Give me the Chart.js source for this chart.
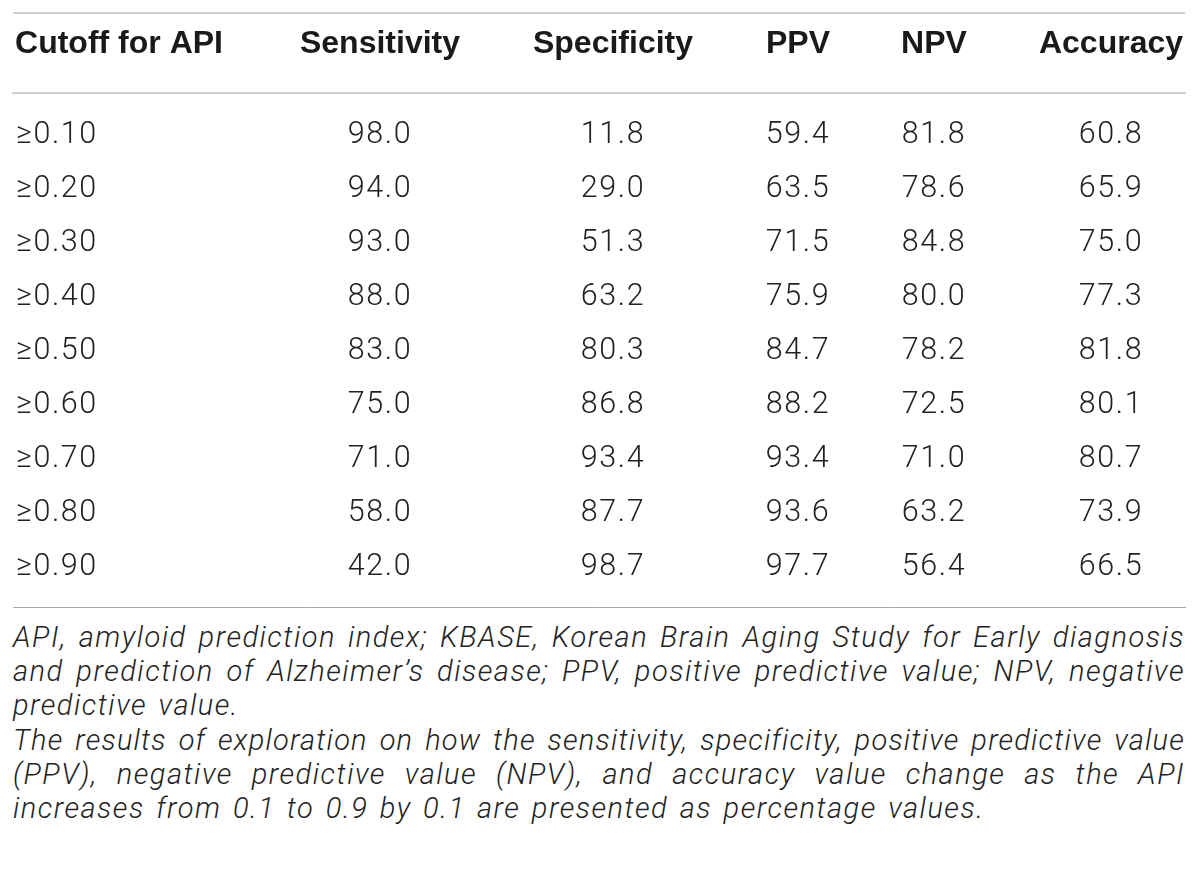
<!DOCTYPE html>
<html>
<head>
<meta charset="utf-8">
<title>API cutoff table</title>
<script src="https://cdn.jsdelivr.net/npm/chart.js@4.4.1/dist/chart.umd.min.js"></script>
<style>
  html, body { margin: 0; padding: 0; background: #fff; }
  #wrap { position: relative; width: 1200px; height: 882px; overflow: hidden; }
  #box { position: absolute; left: 0; top: 0; width: 1200px; height: 620px; }
  #note { position: absolute; left: 13px; top: 620px; width: 1172px;
          font: italic 300 29px/34.2px Roboto, "Liberation Sans", sans-serif;
          letter-spacing: 1.5px; word-spacing: 3px; color: #222; }
  #note div { white-space: nowrap; }
  #note .j { text-align: justify; text-align-last: justify; }
</style>
</head>
<body>
<div id="wrap">
  <div id="box"><canvas id="table"></canvas></div>
  <div id="note">
    <div class="j">API, amyloid prediction index; KBASE, Korean Brain Aging Study for Early diagnosis</div>
    <div class="j">and prediction of Alzheimer’s disease; PPV, positive predictive value; NPV, negative</div>
    <div>predictive value.</div>
    <div class="j">The results of exploration on how the sensitivity, specificity, positive predictive value</div>
    <div class="j">(PPV), negative predictive value (NPV), and accuracy value change as the API</div>
    <div>increases from 0.1 to 0.9 by 0.1 are presented as percentage values.</div>
  </div>
</div>
<script>
const headers = ['Cutoff for API', 'Sensitivity', 'Specificity', 'PPV', 'NPV', 'Accuracy'];
const cutoffs = ['≥0.10', '≥0.20', '≥0.30', '≥0.40', '≥0.50', '≥0.60', '≥0.70', '≥0.80', '≥0.90'];
const sensitivity = [98.0, 94.0, 93.0, 88.0, 83.0, 75.0, 71.0, 58.0, 42.0];
const specificity = [11.8, 29.0, 51.3, 63.2, 80.3, 86.8, 93.4, 87.7, 98.7];
const ppv = [59.4, 63.5, 71.5, 75.9, 84.7, 88.2, 93.4, 93.6, 97.7];
const npv = [81.8, 78.6, 84.8, 80.0, 78.2, 72.5, 71.0, 63.2, 56.4];
const accuracy = [60.8, 65.9, 75.0, 77.3, 81.8, 80.1, 80.7, 73.9, 66.5];
const metrics = [sensitivity, specificity, ppv, npv, accuracy];

// layout only: column centres along the table width, in x-scale units
const colAnchor = [106, 367, 600, 785, 921, 1098];
const bodyFont = { family: 'Roboto', weight: '300', size: 30.5 };
const bodyTrack = '1.6px';
const inkBody = '#222';

// justified footnote lines that are too long get squeezed a little
document.querySelectorAll('#note .j').forEach(el => {
  const over = el.scrollWidth - el.clientWidth;
  if (over > 0) {
    const ls = parseFloat(getComputedStyle(el).letterSpacing) || 0;
    el.style.letterSpacing = (ls - (over + 8) / el.textContent.length).toFixed(2) + 'px';
  }
});

// writes the cell values at the points the scales placed, plus the top rule
const tableText = {
  id: 'tableText',
  afterDatasetsDraw(chart) {
    const ctx = chart.ctx;
    ctx.save();
    ctx.font = `${bodyFont.weight} ${bodyFont.size}px ${bodyFont.family}`;
    ctx.letterSpacing = bodyTrack;
    ctx.fillStyle = inkBody;
    ctx.textAlign = 'center';
    ctx.textBaseline = 'middle';
    chart.data.datasets.forEach((ds, d) => {
      chart.getDatasetMeta(d).data.forEach((pt, i) => {
        ctx.fillText(ds.data[i].v.toFixed(1), pt.x, pt.y);
      });
    });
    const x = chart.scales.x;
    ctx.strokeStyle = '#d0d0d0';
    ctx.lineWidth = 2;
    ctx.beginPath();
    ctx.moveTo(x.left, x.top + 1);
    ctx.lineTo(x.right, x.top + 1);
    ctx.stroke();
    ctx.restore();
    // row labels (y ticks, z 1) are drawn after this, with the same tracking
    ctx.letterSpacing = bodyTrack;
  },
  afterDraw(chart) {
    chart.ctx.letterSpacing = '0px';
  }
};

new Chart(document.getElementById('table'), {
  type: 'scatter',
  data: {
    datasets: metrics.map((vals, j) => ({
      label: headers[j + 1],
      data: vals.map((v, i) => ({ x: colAnchor[j + 1], y: i, v: v })),
      pointRadius: 0,
      pointHoverRadius: 0,
      showLine: false
    }))
  },
  options: {
    responsive: true,
    maintainAspectRatio: false,
    animation: false,
    events: [],
    layout: { padding: { top: 12, left: 13, right: 15, bottom: 13 } },
    plugins: {
      legend: { display: false },
      tooltip: { enabled: false }
    },
    scales: {
      x: {
        type: 'linear',
        position: 'top',
        min: 0,
        max: 1172,
        afterBuildTicks: s => { s.ticks = colAnchor.map(v => ({ value: v })); },
        afterFit: s => { s.height = 81; s.paddingLeft = 0; s.paddingRight = 0; },
        ticks: {
          autoSkip: false,
          maxRotation: 0,
          minRotation: 0,
          padding: 22,
          color: '#1a1a1a',
          font: { family: 'Liberation Sans', weight: 'bold', size: 32 },
          callback: (v, i) => headers[i]
        },
        grid: { display: false },
        border: { display: true, color: '#d0d0d0', width: 2 }
      },
      xb: {
        type: 'linear',
        position: 'bottom',
        min: 0,
        max: 1172,
        afterFit: s => { s.height = 0; s.paddingLeft = 0; s.paddingRight = 0; },
        ticks: { display: false },
        grid: { display: false },
        border: { display: true, color: '#a8a8a8', width: 1 }
      },
      y: {
        type: 'linear',
        reverse: true,
        min: -0.78,
        max: 8.74,
        afterBuildTicks: s => { s.ticks = cutoffs.map((c, i) => ({ value: i })); },
        afterFit: s => { s.width = 0; s.paddingTop = 0; s.paddingBottom = 0; },
        ticks: {
          autoSkip: false,
          mirror: true,
          padding: 3,
          z: 1,
          color: inkBody,
          font: bodyFont,
          callback: (v, i) => cutoffs[i]
        },
        grid: { display: false },
        border: { display: false }
      }
    }
  },
  plugins: [tableText]
});
</script>
</body>
</html>
